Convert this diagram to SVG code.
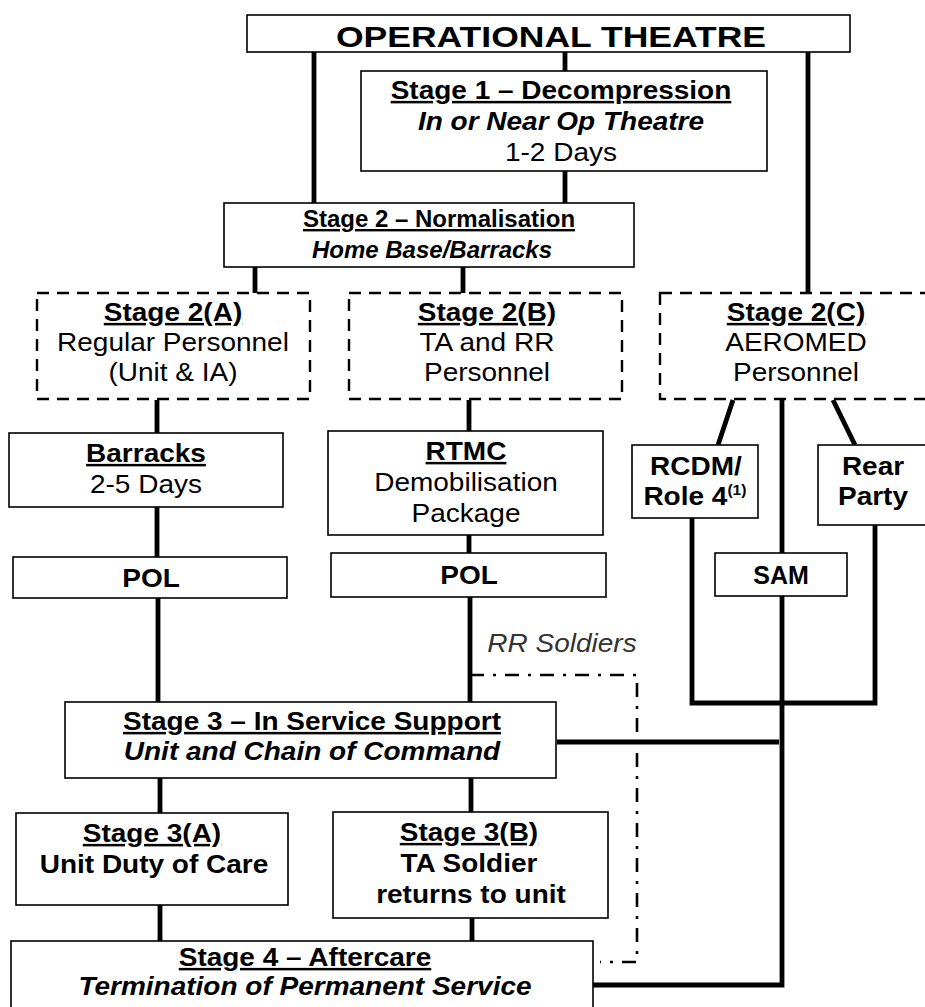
<svg xmlns="http://www.w3.org/2000/svg" width="925" height="1007" viewBox="0 0 925 1007">
<style>
  .box { fill: #fff; stroke: #000; stroke-width: 1.6; }
  .dbox { fill: #fff; stroke: #000; stroke-width: 2.4; stroke-dasharray: 12 8; }
  .conn { fill: none; stroke: #000; stroke-width: 4.8; stroke-linecap: butt; }
  .dd { fill: none; stroke: #000; stroke-width: 2.6; stroke-dasharray: 14 9 3 9; }
  text { font-family: "Liberation Sans", Arial, sans-serif; font-size: 25px; text-anchor: middle; fill: #000; }
  .s { transform-box: fill-box; transform-origin: center; transform: scaleX(1.12); }
  .b { font-weight: bold; }
  .u { text-decoration: underline; }
  .i { font-style: italic; }
  .m { font-size: 24px; }
  .big { font-size: 30px; }
  .note { font-style: italic; fill: #333; }
  .sup { font-size: 14px; }
</style>
<rect width="925" height="1007" fill="#fff"/>
<g id="connectors">
  <path class="conn" d="M314 52 V203"/>
  <path class="conn" d="M565 52 V71"/>
  <path class="conn" d="M808 52 V293"/>
  <path class="conn" d="M565 171 V203"/>
  <path class="conn" d="M255 267 V293"/>
  <path class="conn" d="M463 267 V293"/>
  <path class="conn" d="M157 400 V433"/>
  <path class="conn" d="M157 507 V557"/>
  <path class="conn" d="M158 598 V702"/>
  <path class="conn" d="M469 400 V431"/>
  <path class="conn" d="M469 535 V553"/>
  <path class="conn" d="M470 597 V702"/>
  <path class="conn" d="M733 400 L718 445"/>
  <path class="conn" d="M833 400 L855 445"/>
  <path class="conn" d="M782 400 V553"/>
  <path class="conn" d="M692 518 V703 H875 V525"/>
  <path class="conn" d="M782 596 V985 H593"/>
  <path class="conn" d="M557 742 H779"/>
  <path class="conn" d="M160 778 V813"/>
  <path class="conn" d="M471 778 V812"/>
  <path class="conn" d="M160 905 V941"/>
  <path class="conn" d="M472 918 V941"/>
  <path class="dd" d="M470 675 H637 V962 H600"/>
</g>
<g id="op-theatre">
  <rect class="box" x="247" y="15" width="603" height="37"/>
  <text class="b big" x="551" y="47" textLength="430" lengthAdjust="spacingAndGlyphs">OPERATIONAL THEATRE</text>
</g>
<g id="stage1">
  <rect class="box" x="361" y="71" width="406" height="100"/>
  <text class="b u s" x="561" y="99">Stage 1 – Decompression</text>
  <text class="b i s" x="561" y="130">In or Near Op Theatre</text>
  <text class="s" x="561" y="161">1-2 Days</text>
</g>
<g id="stage2">
  <rect class="box" x="224" y="203" width="410" height="64"/>
  <text class="b u m" x="439" y="227">Stage 2 – Normalisation</text>
  <text class="b i m" x="432" y="258">Home Base/Barracks</text>
</g>
<g id="stage2a">
  <rect class="dbox" x="37" y="293" width="273" height="106"/>
  <text class="b u s" x="173" y="321">Stage 2(A)</text>
  <text class="s" x="173" y="351">Regular Personnel</text>
  <text class="s" x="173" y="381">(Unit &amp; IA)</text>
</g>
<g id="stage2b">
  <rect class="dbox" x="349" y="293" width="273" height="106"/>
  <text class="b u s" x="487" y="321">Stage 2(B)</text>
  <text class="s" x="487" y="351">TA and RR</text>
  <text class="s" x="487" y="381">Personnel</text>
</g>
<g id="stage2c">
  <rect class="dbox" x="660" y="293" width="290" height="106"/>
  <text class="b u s" x="796" y="321">Stage 2(C)</text>
  <text class="s" x="796" y="351">AEROMED</text>
  <text class="s" x="796" y="381">Personnel</text>
</g>
<g id="barracks">
  <rect class="box" x="9" y="433" width="274" height="74"/>
  <text class="b u s" x="146" y="462">Barracks</text>
  <text class="s" x="146" y="493">2-5 Days</text>
</g>
<g id="rtmc">
  <rect class="box" x="328" y="431" width="275" height="104"/>
  <text class="b u s" x="466" y="460">RTMC</text>
  <text class="s" x="466" y="491">Demobilisation</text>
  <text class="s" x="466" y="522">Package</text>
</g>
<g id="rcdm">
  <rect class="box" x="632" y="445" width="126" height="73"/>
  <text class="b s" x="696" y="475">RCDM/</text>
  <text class="b s" x="695" y="505">Role 4<tspan class="sup" dy="-10">(1)</tspan></text>
</g>
<g id="rear-party">
  <rect class="box" x="818" y="445" width="130" height="80"/>
  <text class="b s" x="873" y="475">Rear</text>
  <text class="b s" x="873" y="505">Party</text>
</g>
<g id="pol-a">
  <rect class="box" x="13" y="557" width="274" height="41"/>
  <text class="b s" x="151" y="587">POL</text>
</g>
<g id="pol-b">
  <rect class="box" x="331" y="553" width="275" height="44"/>
  <text class="b s" x="469" y="584">POL</text>
</g>
<g id="sam">
  <rect class="box" x="715" y="553" width="132" height="43"/>
  <text class="b" x="781" y="584">SAM</text>
</g>
<text class="note s" x="562" y="652">RR Soldiers</text>
<g id="stage3">
  <rect class="box" x="65" y="702" width="491" height="76"/>
  <text class="b u s" x="312" y="730">Stage 3 – In Service Support</text>
  <text class="b i s" x="312" y="760">Unit and Chain of Command</text>
</g>
<g id="stage3a">
  <rect class="box" x="16" y="813" width="272" height="92"/>
  <text class="b u s" x="152" y="842">Stage 3(A)</text>
  <text class="b s" x="154" y="873">Unit Duty of Care</text>
</g>
<g id="stage3b">
  <rect class="box" x="333" y="812" width="275" height="106"/>
  <text class="b u s" x="469" y="841">Stage 3(B)</text>
  <text class="b s" x="469" y="872">TA Soldier</text>
  <text class="b s" x="471" y="903">returns to unit</text>
</g>
<g id="stage4">
  <rect class="box" x="11" y="941" width="582" height="80"/>
  <text class="b u s" x="305" y="966">Stage 4 – Aftercare</text>
  <text class="b i s" x="305" y="995">Termination of Permanent Service</text>
</g>
</svg>
